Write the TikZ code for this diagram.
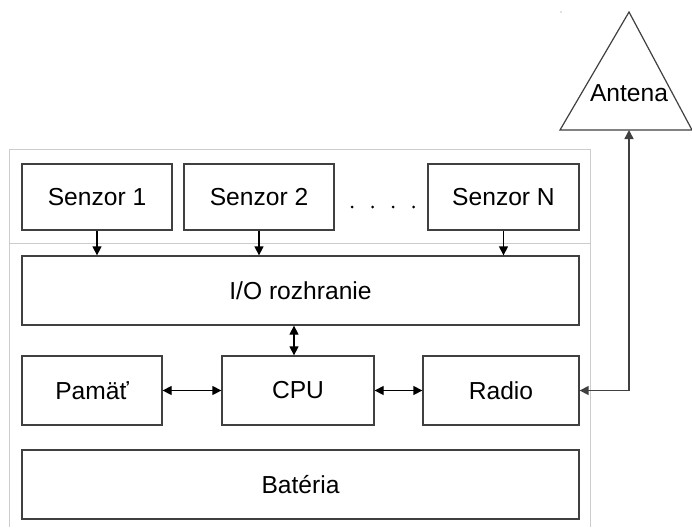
\documentclass[tikz,border=0pt]{standalone}
\usepackage{fontspec}
\setmainfont{Liberation Sans}
\usetikzlibrary{arrows.meta}
\definecolor{edge}{HTML}{404040}
\definecolor{frame}{HTML}{CCCCCC}
\tikzset{
  blk/.style={draw=edge, line width=1.3pt, fill=white, rectangle, inner sep=0pt,
              minimum height=69pt, font=\fontsize{24.6}{29}\selectfont},
  sens/.style={blk, minimum height=66pt},
  conn/.style={line width=1.3pt, -{Triangle[length=9pt,width=9pt]}},
  biconn/.style={line width=1.3pt, {Triangle[length=9pt,width=9pt]}-{Triangle[length=9pt,width=9pt]}},
  radiolink/.style={draw=edge, line width=1.5pt, {Triangle[length=9pt,width=9pt]}-{Triangle[length=9pt,width=9pt]}},
}
\begin{document}
\begin{tikzpicture}[x=1pt, y=-1pt]
\useasboundingbox (0,0) rectangle (692,527);
\fill[white] (0,0) rectangle (692,527);

% outer housing with the sensor strip on top
\draw[frame, line width=1pt] (9,527) -- (9,149) -- (590,149) -- (590,527);
\draw[frame, line width=1pt] (9,243) -- (590,243);

% sensors
\node[sens, minimum width=150pt] (s1) at (97,197) {Senzor 1};
\node[sens, minimum width=150pt] (s2) at (259,197) {Senzor 2};
\node[sens, minimum width=151pt] (sn) at (503.5,197) {Senzor N};
\foreach \dx in {352,372.5,393,413.5}
  \fill (\dx,207) circle (1.5pt);

% core blocks
\node[blk, minimum width=557pt] (io) at (300.5,290.5) {I/O rozhranie};
\node[blk, minimum width=140pt] (mem) at (92,390.5) {Pamäť};
\node[blk, minimum width=152pt] (cpu) at (298,390.5) {CPU};
\node[blk, minimum width=156pt] (radio) at (501,390.5) {Radio};
\node[blk, minimum width=557pt] (bat) at (300.5,484.5) {Batéria};

% antenna
\draw[edge, line width=1.2pt, fill=white] (560,130) -- (629,12) -- (692,130) -- cycle;
\node[font=\fontsize{24.6}{29}\selectfont] (ant) at (629,93) {Antena};
\coordinate (antbase) at (629,130);
\fill[gray] (561,12) circle (0.6pt);

% links
\draw[conn] (s1.south) -- (s1.south |- io.north);
\draw[conn] (s2.south) -- (s2.south |- io.north);
\draw[conn] (sn.south) -- (sn.south |- io.north);
\draw[biconn] (io.south -| 294,0) -- (cpu.north -| 294,0);
\draw[biconn] (mem.east) -- (cpu.west);
\draw[biconn] (cpu.east) -- (radio.east -| radio.west);
\draw[radiolink] (radio.east) -| (antbase);
\end{tikzpicture}
\end{document}
